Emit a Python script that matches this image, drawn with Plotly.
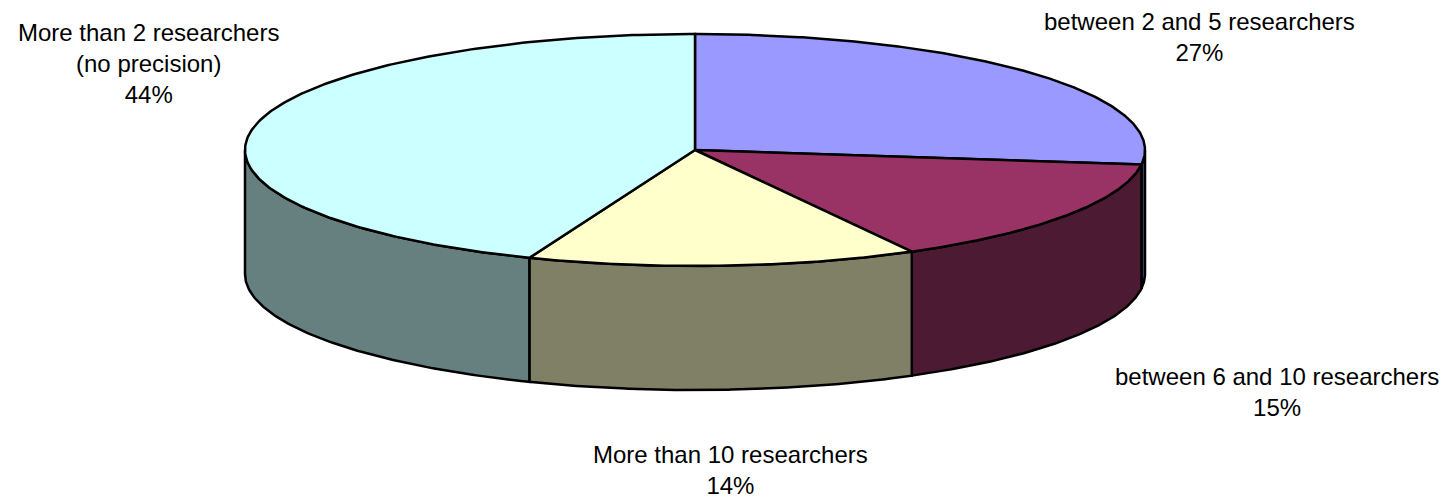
import numpy as np
import plotly.graph_objects as go

# Share of responding teams by number of researchers
categories = [
    "between 2 and 5 researchers",
    "between 6 and 10 researchers",
    "More than 10 researchers",
    "More than 2 researchers<br>(no precision)",
]
shares = [27, 15, 14, 44]

top_colors = ["#9999FF", "#993366", "#FFFFCC", "#CCFFFF"]
side_colors = ["#4D4D80", "#4D1A33", "#808066", "#668080"]

# Label anchor positions (pixel space) for each category
label_pos = [(1199, 37), (1277, 392), (730, 470), (148, 63)]

W, H = 1449, 499
CX, CY = 695, 150      # centre of the top face
RX, RY = 450, 116      # radii of the top ellipse
DEPTH = 124            # thickness of the disc


def rim(theta_deg, dz=0.0):
    t = np.radians(theta_deg)
    return CX + RX * np.sin(t), CY - RY * np.cos(t) + dz


fig = go.Figure()

total = float(sum(shares))
bounds = np.concatenate([[0.0], np.cumsum(shares) / total * 360.0])

# Visible side walls (front half of the disc: 90..270 degrees clockwise from top)
for i in range(len(shares)):
    lo = max(bounds[i], 90.0)
    hi = min(bounds[i + 1], 270.0)
    if hi <= lo:
        continue
    th = np.linspace(lo, hi, 120)
    xt, yt = rim(th)
    xb, yb = rim(th[::-1], DEPTH)
    xs = np.concatenate([xt, xb, xt[:1]])
    ys = np.concatenate([yt, yb, yt[:1]])
    fig.add_trace(go.Scatter(
        x=xs, y=ys, mode="lines", fill="toself",
        fillcolor=side_colors[i], line=dict(color="black", width=2.5),
        hoverinfo="skip", showlegend=False,
    ))

# Top faces of the slices
for i in range(len(shares)):
    th = np.linspace(bounds[i], bounds[i + 1], 240)
    xa, ya = rim(th)
    xs = np.concatenate([[CX], xa, [CX]])
    ys = np.concatenate([[CY], ya, [CY]])
    fig.add_trace(go.Scatter(
        x=xs, y=ys, mode="lines", fill="toself",
        fillcolor=top_colors[i], line=dict(color="black", width=2.5),
        hoverinfo="skip", showlegend=False,
    ))

for name, val, (lx, ly) in zip(categories, shares, label_pos):
    fig.add_annotation(
        x=lx, y=ly, xref="x", yref="y",
        text=f"{name}<br>{val}%", showarrow=False,
        font=dict(family="Liberation Sans, Arial, sans-serif", size=24, color="black"),
        align="center", xanchor="center", yanchor="middle",
    )

fig.update_xaxes(range=[0, W], visible=False, fixedrange=True)
fig.update_yaxes(range=[H, 0], visible=False, fixedrange=True)
fig.update_layout(
    width=W, height=H,
    margin=dict(l=0, r=0, t=0, b=0),
    paper_bgcolor="white", plot_bgcolor="white",
    showlegend=False,
)

fig.write_html("out.html")
